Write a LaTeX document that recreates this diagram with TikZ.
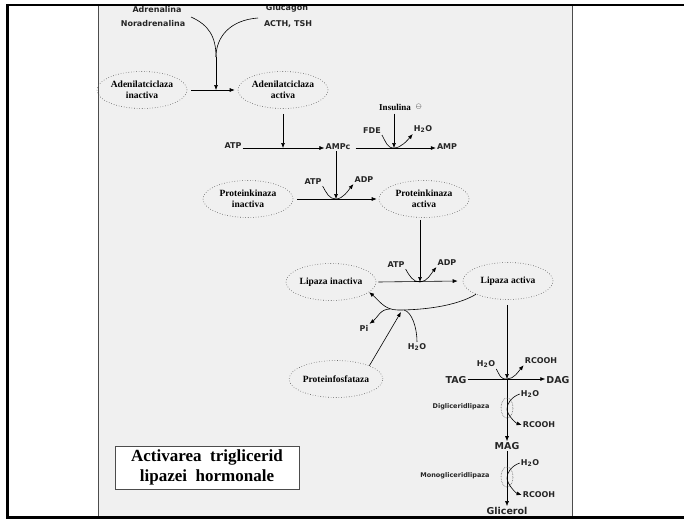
\documentclass[tikz,border=0pt]{standalone}
\usepackage{fontspec}
\setmainfont{Liberation Serif}
\setsansfont{DejaVu Sans}
\usetikzlibrary{shapes.geometric,arrows.meta,positioning}
\tikzset{
  enzima/.style={ellipse,draw=gray!70!black,dotted,line width=0.6pt,minimum width=90pt,minimum height=37pt,inner sep=0pt,align=center,font=\bfseries\fontsize{9.5}{11}\selectfont},
  mic/.style={font=\sffamily\bfseries\fontsize{8}{9}\selectfont,inner sep=1pt,text=black!85},
  mare/.style={font=\sffamily\bfseries\fontsize{9.5}{10}\selectfont,inner sep=1pt,text=black!85},
  enz/.style={font=\sffamily\bfseries\fontsize{6.5}{7}\selectfont,inner sep=1pt,text=black!85},
  sag/.style={-{Latex[length=5pt,width=4pt]},line width=0.6pt},
  fara/.style={line width=0.6pt},
  cerc/.style={densely dotted,gray!70!black,line width=0.6pt}
}
\begin{document}
\begin{tikzpicture}[x=1pt,y=-1pt]
\useasboundingbox (0,0) rectangle (684,519);
\fill[gray!12] (98,4) rectangle (572,518);
\draw[gray!60!black,line width=0.8pt] (98,4) -- (98,518) (572,4) -- (572,518);

% hormoni
\node[mic] (adr) at (157,10) {Adrenalina};
\node[mic] (nor) at (153,24) {Noradrenalina};
\node[mic] (glu) at (287,8) {Glucagon};
\node[mic] (acth) at (288,24) {ACTH, TSH};
\coordinate (ha) at (191,17);
\coordinate (hg) at (258,18);
\coordinate (h) at (216,57);
\coordinate (j1) at (216,90);
\draw[fara] (ha) .. controls +(18,8) and +(0,-20) .. (h);
\draw[fara] (hg) .. controls +(-28,2) and +(0,-20) .. (h);
\draw[sag] (h) -- (j1);

% adenilatciclaza
\node[enzima] (aci) at (142,90) {Adenilatciclaza\\inactiva};
\node[enzima] (aca) at (283,90) {Adenilatciclaza\\activa};
\draw[sag] ([xshift=4pt]aci.east) -- ([xshift=-3pt]aca.west);

% AMPc
\coordinate (j2) at (283,148);
\node[mic] (atp1) at (233,146) {ATP};
\node[mic] (ampc) at (338,147) {AMPc};
\node[mic] (amp) at (447,147) {AMP};
\draw[sag] ([yshift=-5pt]aca.south) -- (j2);
\draw[sag] (atp1.east |- j2) -- (ampc.west |- j2);
\draw[sag] ([xshift=4pt]ampc.east |- j2) -- (amp.west |- j2);
\node[font=\bfseries\fontsize{9}{10}\selectfont] (ins) at (395,107) {Insulina};
\node[right=1pt of ins,font=\fontsize{7}{8}\selectfont,inner sep=0pt] (minus) {$\ominus$};
\coordinate (j3) at (394,148);
\node[mic] (fde) at (372,131) {FDE};
\node[mic] (h2o1) at (423,129) {H\textsubscript{2}O};
\draw[sag] (ins.south -| j3) -- (j3);
\draw[sag] (fde.south east) .. controls +(4,7) and +(-7,0) .. (j3) .. controls +(7,0) and +(-5,6) .. (h2o1.south west);

% proteinkinaza
\node[enzima] (pki) at (248,199) {Proteinkinaza\\inactiva};
\node[enzima] (pka) at (424,199) {Proteinkinaza\\activa};
\coordinate (j4) at (336,199);
\draw[sag] (ampc.south -| j4) -- (j4);
\draw[sag] ([xshift=4pt]pki.east) -- ([xshift=-2pt]pka.west);
\node[mic] (atp2) at (313,182) {ATP};
\node[mic] (adp2) at (364,180) {ADP};
\draw[sag] (atp2.south east) .. controls +(4,7) and +(-7,0) .. (j4) .. controls +(7,0) and +(-5,6) .. (adp2.south west);

% lipaza
\node[enzima] (li) at (331,282) {Lipaza inactiva};
\node[enzima] (la) at (508,281) {Lipaza activa};
\coordinate (j6) at (420,282);
\draw[sag] ([yshift=-2pt]pka.south -| j6) -- (j6);
\draw[sag] ([xshift=2pt]li.east) -- ([xshift=-5pt]la.west);
\node[mic] (atp3) at (396,265) {ATP};
\node[mic] (adp3) at (447,263) {ADP};
\draw[sag] (atp3.south east) .. controls +(4,7) and +(-7,0) .. (j6) .. controls +(7,0) and +(-5,6) .. (adp3.south west);
\coordinate (j7) at (398,310);
\draw[sag] (la.south west) .. controls +(-20,12) and +(25,0) .. (j7) .. controls +(-14,0) and +(10,8) .. (li.-15);
\node[mic] (pi) at (364,328) {Pi};
\coordinate (j8) at (390,309);
\draw[sag] (j8) .. controls +(-10,0) and +(8,-6) .. (pi.north east);
\node[mic] (h2o3) at (417,347) {H\textsubscript{2}O};
\coordinate (j9) at (404,310);
\draw[fara] (h2o3.north) .. controls +(0,-14) and +(8,2) .. (j9);
\node[enzima] (pf) at (336,379) {Proteinfosfataza};
\coordinate (j10) at (401,312);
\draw[sag] (pf.north east) -- (j10);

% TAG -> glicerol
\coordinate (j11) at (507,379);
\node[mare] (tag) at (456,380) {TAG};
\node[mare] (dag) at (558,380) {DAG};
\draw[sag] ([yshift=-5pt]la.south -| j11) -- (j11);
\draw[sag] (tag.east |- j11) -- (dag.west |- j11);
\node[mic] (h2o4) at (486,364) {H\textsubscript{2}O};
\node[mic] (rc1) at (541,361) {RCOOH};
\draw[sag] (h2o4.south east) .. controls +(4,7) and +(-7,0) .. (j11) .. controls +(7,0) and +(-5,6) .. (rc1.south west);

\node[mare] (mag) at (507,446) {MAG};
\draw[sag] (j11) -- (mag.north);
\node[enz] (dgl) at (461,407) {Digliceridlipaza};
\draw[cerc] (507,408) ellipse [x radius=6, y radius=10];
\node[mic] (h2o5) at (530,394) {H\textsubscript{2}O};
\node[mic] (rc2) at (539,425) {RCOOH};
\coordinate (j12) at (507,409);
\draw[sag] (h2o5.west) .. controls +(-8,3) and +(0,-6) .. (j12) .. controls +(0,6) and +(-6,-2) .. (rc2.west);

\node[mare] (gli) at (507,511) {Glicerol};
\draw[sag] (mag.south) -- (gli.north);
\node[enz] (mgl) at (455,476) {Monogliceridlipaza};
\draw[cerc] (507,477) ellipse [x radius=6, y radius=10];
\node[mic] (h2o6) at (530,463) {H\textsubscript{2}O};
\node[mic] (rc3) at (539,495) {RCOOH};
\coordinate (j13) at (507,478);
\draw[sag] (h2o6.west) .. controls +(-8,3) and +(0,-6) .. (j13) .. controls +(0,6) and +(-6,-2) .. (rc3.west);

% titlu
\node[draw=gray!60!black,fill=white,align=center,minimum width=184pt,minimum height=43pt,inner sep=0pt,
  font=\bfseries\fontsize{17}{20}\selectfont] (titlu) at (207,467.5) {Activarea\ \ triglicerid\\lipazei\ \ hormonale};

% rama
\fill[white] (0,0) rectangle (684,3.8);
\fill[white] (0,518.8) rectangle (684,519);
\draw[line width=2.5pt] (684,5.2) -- (7.3,5.2) -- (7.3,517.7) -- (684,517.7);
\end{tikzpicture}
\end{document}
